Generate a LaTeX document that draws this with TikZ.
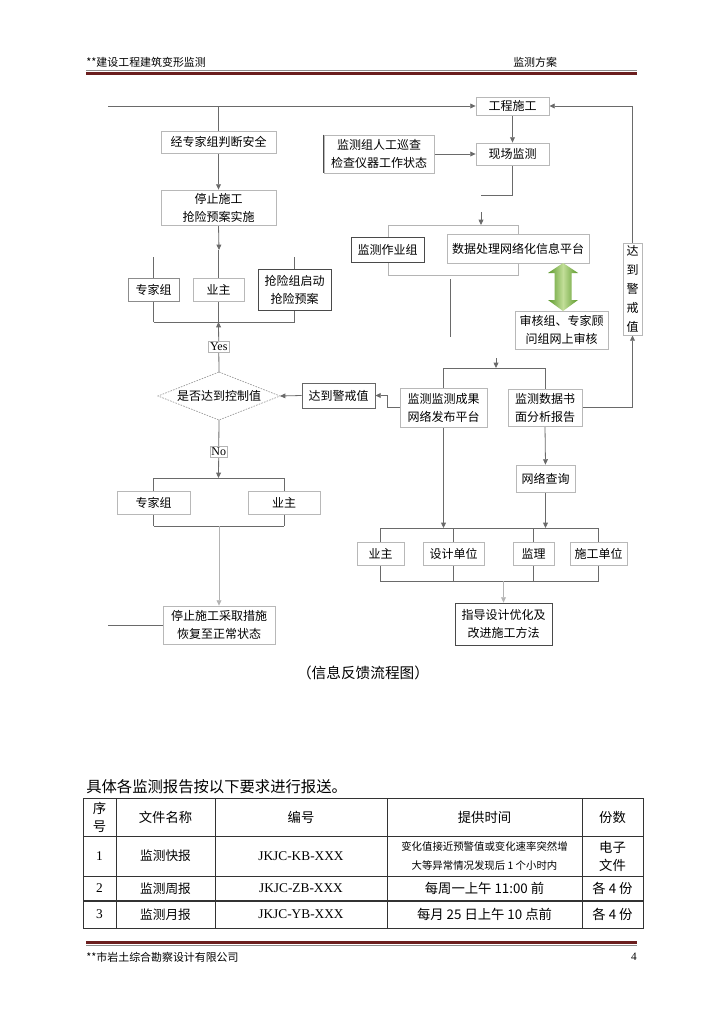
\documentclass[tikz,border=0pt]{standalone}
\usepackage{fontspec}
\setmainfont{Liberation Serif}
\newfontfamily\cjk{Noto Sans CJK SC}
\usetikzlibrary{arrows.meta,backgrounds}
\pgfdeclarelayer{bottom}
\pgfsetlayers{bottom,background,main}
\definecolor{boxl}{HTML}{B8B8B8}
\definecolor{boxd}{HTML}{4A4A4A}
\definecolor{lnc}{HTML}{6A6A6A}
\definecolor{lnl}{HTML}{B4B4B4}
\definecolor{hdr}{HTML}{6B1E1E}
\definecolor{gdark}{HTML}{5A982A}
\definecolor{glight}{HTML}{C2DE98}
\tikzset{
  box/.style={draw=boxl, fill=white, inner sep=0pt, align=center, line width=0.6pt,
    font=\cjk\fontsize{9}{13.5}\selectfont},
  boxd/.style={box, draw=boxd},
  ln/.style={draw=lnc, line width=0.6pt},
  lnlt/.style={draw=lnl, line width=0.6pt},
  arr/.style={ln, -{Triangle[length=4pt,width=3.6pt]}},
  yn/.style={fill=white, draw=lnl, line width=0.3pt, inner sep=1pt, font=\fontsize{9}{10}\selectfont},
  th/.style={align=center, inner sep=0pt, font=\cjk\fontsize{10}{13.5}\selectfont},
  tc/.style={align=center, inner sep=0pt, font=\cjk\fontsize{9.5}{12}\selectfont},
  tl/.style={align=center, inner sep=0pt, font=\fontsize{10}{12}\selectfont},
  ts/.style={align=center, inner sep=0pt, font=\cjk\fontsize{7.8}{14.2}\selectfont},
  grid/.style={draw=black!80, line width=0.6pt},
  hf/.style={inner sep=0pt, font=\cjk\fontsize{8.2}{10}\selectfont},
}
% box: style, name, x1, y1, x2, y2, text (pixel coordinates)
\newcommand\bx[7]{\node[#1, minimum width={(#5-#3)*0.75pt}, minimum height={(#6-#4)*0.75pt}]
  (#2) at ({(#3+#5)/2},{(#4+#6)/2}) {#7};}
\begin{document}
\begin{tikzpicture}[x=0.75pt,y=-0.75pt]
\begin{pgfonlayer}{bottom}
\fill[white] (0,0) rectangle (724,1024);
\end{pgfonlayer}
\useasboundingbox (0,0) rectangle (724,1024);

% ---------- header ----------
\node[hf, anchor=west] (htl) at (86,62) {**建设工程建筑变形监测};
\node[hf, anchor=west] (htr) at (513,62) {监测方案};
\draw[draw=black!45, line width=0.6pt] (86,70) -- (637,70);
\fill[hdr] (86,71.8) rectangle (637,75);

% ---------- flowchart nodes ----------
\bx{box}{gc}{476}{97}{549}{115}{工程施工}
\bx{box}{xc}{476}{143}{549}{165}{现场监测}
\bx{box}{xj}{324}{135}{434}{173}{监测组人工巡查\\检查仪器工作状态}
\bx{boxd}{zy}{351}{237}{424}{262}{监测作业组}
\bx{box}{sj}{447}{234}{589}{263}{数据处理网络化信息平台}
\bx{box}{sh}{515}{311}{608}{349}{审核组、专家顾\\问组网上审核}
\bx{box, font=\cjk\fontsize{9}{14.25}\selectfont}{jv}{623}{243}{642}{335}{达\\到\\警\\戒\\值}
\bx{box}{fb}{400}{388}{487}{427}{监测监测成果\\网络发布平台}
\bx{box}{bg}{508}{389}{582}{426}{监测数据书\\面分析报告}
\bx{box, draw=black!60}{jj}{302}{383}{375}{408}{达到警戒值}
\bx{box}{jz}{161}{131}{276}{153}{经专家组判断安全}
\bx{box}{tz}{161}{190}{276}{225}{停止施工\\抢险预案实施}
\bx{box, draw=black!45}{zj1}{128}{278}{179}{301}{专家组}
\bx{box}{yz1}{193}{278}{244}{301}{业主}
\bx{boxd}{qx}{258}{269}{331}{310}{抢险组启动\\抢险预案}
\bx{box}{zj2}{117}{491}{190}{514}{专家组}
\bx{box}{yz2}{248}{491}{320}{514}{业主}
\bx{box}{tc}{163}{606}{275}{644}{停止施工采取措施\\恢复至正常状态}
\bx{box}{wl}{516}{465}{575}{492}{网络查询}
\bx{box}{yz3}{357}{542}{404}{565}{业主}
\bx{box}{sd}{423}{542}{484}{565}{设计单位}
\bx{box}{jl}{513}{542}{554}{565}{监理}
\bx{box}{sg}{570}{542}{627}{565}{施工单位}
\bx{boxd}{zd}{455}{603}{552}{645}{指导设计优化及\\改进施工方法}

% diamond
\node[inner sep=0pt, font=\cjk\fontsize{9}{11}\selectfont] (dm) at (219,396) {是否达到控制值};
\coordinate (dmt) at (219,372);
\coordinate (dmr) at (280,396);
\coordinate (dmb) at (219,420);
\coordinate (dml) at (158,396);
\draw[draw=black!40, line width=0.5pt, dash pattern=on 1.2pt off 0.9pt] (dmt) -- (dmr) -- (dmb) -- (dml) -- cycle;

% extra dark left edge of xj
\draw[draw=boxd, line width=0.6pt] (xj.north west) -- (xj.south west);

% coordinates for free ends
\coordinate (tl) at (108,106);
\coordinate (ua) at (219,250);
\coordinate (ut) at (0,257);
\coordinate (ub) at (0,322);
\coordinate (lt) at (0,478);
\coordinate (lb) at (0,526);
\coordinate (lstub) at (108,625);
\coordinate (mt) at (0,225);
\coordinate (mb) at (0,275);
\coordinate (mxl) at (388,0);
\coordinate (mxr) at (518,0);
\coordinate (xcl) at (481,195);
\coordinate (xca) at (481,212);
\coordinate (st1) at (450,279);
\coordinate (st2) at (450,337);
\coordinate (ra1) at (496,358);
\coordinate (rt) at (0,368);
\coordinate (bt) at (0,528);
\coordinate (bb) at (0,581);

\begin{pgfonlayer}{background}
  % top line and left column
  \draw[arr] (tl) -- (gc.west);
  \draw[ln] (jz.north) -- (jz.north |- tl);
  \draw[arr] (jz.south) -- (tz.north);
  \draw[arr] (tz.south) -- (ua);
  \draw[ln] (zj1.north |- ut) -- (zj1.north |- ub);
  \draw[ln] (yz1.north |- ua) -- (yz1.north |- ub);
  \draw[ln] (qx.north |- ut) -- (qx.north |- ub);
  \draw[ln] (zj1.north |- ub) -- (qx.north |- ub);
  \draw[arr] (dmt) -- (yz1.north |- ub) node[yn, pos=0.5] (yes) {Yes};
  \draw[arr] (jj.west) -- (dmr);
  \draw[arr] (fb.west) -- ++(-12,0) |- (jj.east);
  \draw[arr] (dmb) -- (yz1.north |- lt) node[yn, pos=0.55] (no) {No};
  \draw[ln] (zj2.north |- lt) -- (zj2.north |- lb);
  \draw[ln] (yz2.north |- lt) -- (yz2.north |- lb);
  \draw[ln] (zj2.north |- lt) -- (yz2.north |- lt);
  \draw[ln] (zj2.north |- lb) -- (yz2.north |- lb);
  \draw[arr, draw=lnl] (tc.north |- lb) -- (tc.north);
  \draw[ln] (tc.west) -- (lstub);
  % right column
  \draw[arr] (gc.south) -- (xc.north);
  \draw[arr] (xj.east) -- (xc.west);
  \draw[ln] (xc.south) |- (xcl);
  \draw[arr] (xca) -- (xca |- mt);
  \draw[lnlt] (mxl |- mt) rectangle (mxr |- mb);
  \draw[ln] (st1) -- (st2);
  \draw[arr] (ra1) -- (ra1 |- rt);
  \draw[ln] (fb.north |- rt) -- (bg.north |- rt);
  \draw[ln] (fb.north |- rt) -- (fb.north);
  \draw[ln] (bg.north |- rt) -- (bg.north);
  \draw[arr] (bg.east) -| (jv.south);
  \draw[arr] (jv.north) |- (gc.east);
  \draw[arr] (fb.south) -- (fb.south |- bt);
  \draw[arr] (bg.south) -- (wl.north);
  \draw[arr] (wl.south) -- (wl.south |- bt);
  \draw[ln] (yz3.north |- bt) rectangle (sg.north |- bb);
  \draw[ln] (sd.north |- bt) -- (sd.north |- bb);
  \draw[ln] (jl.north |- bt) -- (jl.north |- bb);
  \draw[arr, draw=lnl] (zd.north |- bb) -- (zd.north);
\end{pgfonlayer}

% green double arrow
\shade[left color=gdark, right color=gdark, middle color=glight]
  (563,263) -- (578,273) -- (571.5,273) -- (571.5,300) -- (578,300) -- (563,311)
  -- (548,300) -- (554.5,300) -- (554.5,273) -- (548,273) -- cycle;

% caption
\node[inner sep=0pt, font=\cjk\fontsize{11}{13}\selectfont] (cap) at (363,673) {（信息反馈流程图）};

% ---------- table ----------
\node[anchor=west, inner sep=0pt, font=\cjk\fontsize{11.5}{13}\selectfont] (intro) at (86,787) {具体各监测报告按以下要求进行报送。};
\draw[grid] (83,798) rectangle (643,928);
\draw[grid] (83,836) -- (643,836);
\draw[grid] (83,876) -- (643,876);
\draw[grid, line width=1.1pt] (83,901) -- (643,901);
\foreach \cx in {116,215,387,582} { \draw[grid] (\cx,798) -- (\cx,928); }

\node[th] (h1) at (99.5,817) {序\\号};
\node[th] (h2) at (165.5,817) {文件名称};
\node[th] (h3) at (301,817) {编号};
\node[th] (h4) at (484.5,817) {提供时间};
\node[th] (h5) at (612.5,817) {份数};

\node[tl] (r11) at (99.5,856) {1};
\node[tc] (r12) at (165.5,856) {监测快报};
\node[tl] (r13) at (301,856) {JKJC-KB-XXX};
\node[ts] (r14) at (484.5,856) {变化值接近预警值或变化速率突然增\\大等异常情况发现后 1 个小时内};
\node[th] (r15) at (612.5,856) {电子\\文件};

\node[tl] (r21) at (99.5,888.5) {2};
\node[tc] (r22) at (165.5,888.5) {监测周报};
\node[tl] (r23) at (301,888.5) {JKJC-ZB-XXX};
\node[th] (r24) at (484.5,888.5) {每周一上午 11:00 前};
\node[th] (r25) at (612.5,888.5) {各 4 份};

\node[tl] (r31) at (99.5,914.5) {3};
\node[tc] (r32) at (165.5,914.5) {监测月报};
\node[tl] (r33) at (301,914.5) {JKJC-YB-XXX};
\node[th] (r34) at (484.5,914.5) {每月 25 日上午 10 点前};
\node[th] (r35) at (612.5,914.5) {各 4 份};

% ---------- footer ----------
\fill[hdr] (86,940.5) rectangle (637,943.5);
\draw[draw=black!45, line width=0.6pt] (86,945.5) -- (637,945.5);
\node[hf, anchor=west] (ftl) at (86,957) {**市岩土综合勘察设计有限公司};
\node[hf, anchor=east, font=\fontsize{8.5}{10}\selectfont] (ftr) at (637,957) {4};
\end{tikzpicture}
\end{document}
